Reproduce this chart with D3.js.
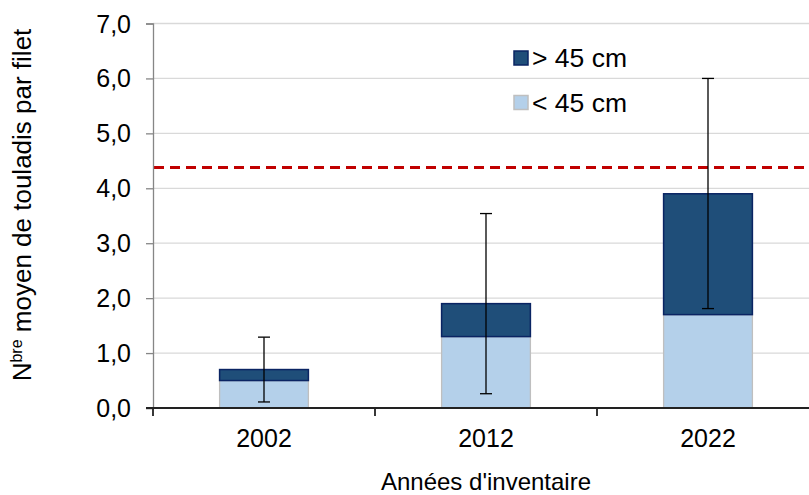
<!DOCTYPE html>
<html>
<head>
<meta charset="utf-8">
<script src="https://cdn.jsdelivr.net/npm/d3@7"></script>
<style>
  html, body { margin: 0; padding: 0; background: #fff; }
  svg { display: block; font-family: "Liberation Sans", Arial, sans-serif; }
</style>
</head>
<body>
<svg id="chart" width="809" height="495"></svg>
<script>
// Inventory years and mean catch per net, split by length class
const years = ["2002", "2012", "2022"];
const under45 = [0.5, 1.3, 1.7];
const over45 = [0.2, 0.6, 2.2];
const errLow = [0.11, 0.26, 1.81];
const errHigh = [1.29, 3.54, 6.0];
const reference = 4.38;
const yTicks = [0, 1, 2, 3, 4, 5, 6, 7];
const legendLabels = ["> 45 cm", "< 45 cm"];

(function draw() {
const svg = d3.select("#chart");
const plotL = 153, plotR = 819, plotT = 23.5, plotB = 408;
const font = "Liberation Sans, Arial, sans-serif";

const x = d3.scaleBand().domain(years).range([plotL, plotR])
  .paddingInner(0.6).paddingOuter(0.3);
const y = d3.scaleLinear().domain([0, 7]).range([plotB, plotT]);
const fmt = v => d3.format(".1f")(v).replace(".", ",");

// Horizontal gridlines
svg.append("g").selectAll("line").data(yTicks.filter(d => d > 0)).join("line")
  .attr("x1", plotL).attr("x2", 809)
  .attr("y1", d => y(d)).attr("y2", d => y(d))
  .attr("stroke", "#d9d9d9").attr("stroke-width", 1.3);

// Stacked bars
const stacks = years.map((yr, i) => ({ yr, lo: under45[i], hi: under45[i] + over45[i] }));
const bars = svg.append("g");
bars.selectAll("rect.lo").data(stacks).join("rect").attr("class", "lo")
  .attr("x", d => x(d.yr)).attr("width", x.bandwidth())
  .attr("y", d => y(d.lo)).attr("height", d => y(0) - y(d.lo))
  .attr("fill", "#b4d0ea").attr("stroke", "#bfbfbf").attr("stroke-width", 1.3);
bars.selectAll("rect.hi").data(stacks).join("rect").attr("class", "hi")
  .attr("x", d => x(d.yr)).attr("width", x.bandwidth())
  .attr("y", d => y(d.hi)).attr("height", d => y(d.lo) - y(d.hi))
  .attr("fill", "#1f4e79").attr("stroke", "#0a2463").attr("stroke-width", 1.5);

// Reference line
svg.append("line")
  .attr("x1", plotL + 1).attr("x2", 809)
  .attr("y1", y(reference)).attr("y2", y(reference))
  .attr("stroke", "#c00000").attr("stroke-width", 3)
  .attr("stroke-dasharray", "10,6");

// Error bars
const eb = svg.append("g").attr("stroke", "#000").attr("stroke-width", 1.3);
years.forEach((yr, i) => {
  const cx = x(yr) + x.bandwidth() / 2;
  eb.append("line").attr("x1", cx).attr("x2", cx)
    .attr("y1", y(errLow[i])).attr("y2", y(errHigh[i]));
  [errLow[i], errHigh[i]].forEach(v => {
    eb.append("line").attr("x1", cx - 6).attr("x2", cx + 6)
      .attr("y1", y(v)).attr("y2", y(v));
  });
});

// Y axis
const yAxis = svg.append("g").attr("transform", `translate(${plotL},0)`)
  .call(d3.axisLeft(y).tickValues(yTicks).tickFormat(fmt).tickSize(7).tickPadding(15));
yAxis.select(".domain").attr("stroke", "#868686").attr("stroke-width", 1.3);
yAxis.selectAll(".tick line").attr("stroke", "#868686").attr("stroke-width", 1.3);
yAxis.selectAll(".tick text").attr("font-size", 25).attr("fill", "#000")
  .attr("font-family", font).attr("dy", "0.34em");

// X axis
const xAxis = svg.append("g").attr("transform", `translate(0,${plotB})`)
  .call(d3.axisBottom(x).tickSize(0).tickPadding(21));
xAxis.select(".domain").attr("d", `M${plotL - 7},0H${809}`)
  .attr("stroke", "#222").attr("stroke-width", 1.8);
xAxis.selectAll(".tick text").attr("font-size", 25).attr("fill", "#000")
  .attr("font-family", font);
// Category boundary ticks
const bounds = [plotL, plotL + x.step(), plotL + 2 * x.step()];
xAxis.append("g").selectAll("line").data(bounds).join("line")
  .attr("x1", d => d).attr("x2", d => d).attr("y1", 0).attr("y2", 8)
  .attr("stroke", "#222").attr("stroke-width", 1.8);

// Axis titles
svg.append("text").attr("x", x(years[1]) + x.bandwidth() / 2).attr("y", 490)
  .attr("text-anchor", "middle").attr("font-size", 24).text("Années d'inventaire");
const yt = svg.append("text")
  .attr("transform", `translate(31,205) rotate(-90)`)
  .attr("text-anchor", "middle").attr("font-size", 26);
yt.append("tspan").text("N");
yt.append("tspan").attr("font-size", 16).attr("dy", -9).text("bre");
yt.append("tspan").attr("dy", 9).text(" moyen de touladis par filet");

// Legend
const legendColors = [["#1f4e79", "#0a2463"], ["#b4d0ea", "#bfbfbf"]];
const lg = svg.append("g");
legendLabels.forEach((lab, i) => {
  const ly = 51 + i * 44.5;
  lg.append("rect").attr("x", 514).attr("y", ly).attr("width", 14).attr("height", 14)
    .attr("fill", legendColors[i][0]).attr("stroke", legendColors[i][1]).attr("stroke-width", 1.5);
  lg.append("text").attr("x", 532).attr("y", ly + 16).attr("font-size", 26.5).text(lab);
});
})();
</script>
</body>
</html>
